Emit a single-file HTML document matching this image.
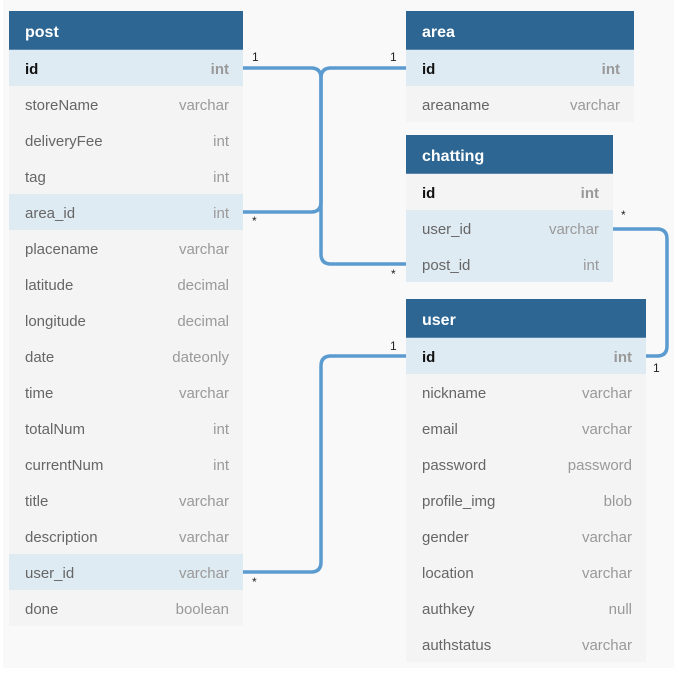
<!DOCTYPE html>
<html><head><meta charset="utf-8"><style>
*{margin:0;padding:0;box-sizing:border-box}
body{width:674px;height:675px;background:#fff;position:relative;overflow:hidden;font-family:"Liberation Sans","DejaVu Sans",sans-serif}
#bg{position:absolute;left:3px;top:0;width:671px;height:668px;background:#f9f9f9}
.t{position:absolute;background:#f4f4f4}
.h{height:39px;background:#2d6693;color:#fff;font-weight:bold;font-size:16px;line-height:39px;padding:2px 0 0 16px;border-bottom:1px solid #5a87ab}
.r{height:36px;line-height:36px;font-size:15px;color:#666;padding:2px 14px 0 16px;display:flex;justify-content:space-between}
.r span:last-child{color:#999}
.r.hl{background:#dfebf3}
.r.pk{font-weight:bold;color:#111}
.r.pk span:last-child{color:#999}
.l{position:absolute;font-size:12px;color:#222}
svg{position:absolute;left:0;top:0}
</style></head><body>
<div id="bg"></div>
<svg width="674" height="675"><g fill="none" stroke="#5b9bd0" stroke-width="3.5">
<path d="M243 68 H311 Q321 68 321 78 V254 Q321 264 331 264 H406"/>
<path d="M406 68 H331 Q321 68 321 78 V202 Q321 212 311 212 H243"/>
<path d="M613 229 H657 Q667 229 667 239 V346 Q667 356 657 356 H646"/>
<path d="M243 572 H311 Q321 572 321 562 V366 Q321 356 331 356 H406"/>
</g></svg>
<div class="t" style="left:9px;top:11px;width:234px">
<div class="h">post</div>
<div class="r hl pk"><span>id</span><span>int</span></div>
<div class="r"><span>storeName</span><span>varchar</span></div>
<div class="r"><span>deliveryFee</span><span>int</span></div>
<div class="r"><span>tag</span><span>int</span></div>
<div class="r hl"><span>area_id</span><span>int</span></div>
<div class="r"><span>placename</span><span>varchar</span></div>
<div class="r"><span>latitude</span><span>decimal</span></div>
<div class="r"><span>longitude</span><span>decimal</span></div>
<div class="r"><span>date</span><span>dateonly</span></div>
<div class="r"><span>time</span><span>varchar</span></div>
<div class="r"><span>totalNum</span><span>int</span></div>
<div class="r"><span>currentNum</span><span>int</span></div>
<div class="r"><span>title</span><span>varchar</span></div>
<div class="r"><span>description</span><span>varchar</span></div>
<div class="r hl"><span>user_id</span><span>varchar</span></div>
<div class="r"><span>done</span><span>boolean</span></div>
</div>
<div class="t" style="left:406px;top:11px;width:228px">
<div class="h">area</div>
<div class="r hl pk"><span>id</span><span>int</span></div>
<div class="r"><span>areaname</span><span>varchar</span></div>
</div>
<div class="t" style="left:406px;top:135px;width:207px">
<div class="h">chatting</div>
<div class="r pk"><span>id</span><span>int</span></div>
<div class="r hl"><span>user_id</span><span>varchar</span></div>
<div class="r hl"><span>post_id</span><span>int</span></div>
</div>
<div class="t" style="left:406px;top:299px;width:240px">
<div class="h">user</div>
<div class="r hl pk"><span>id</span><span>int</span></div>
<div class="r"><span>nickname</span><span>varchar</span></div>
<div class="r"><span>email</span><span>varchar</span></div>
<div class="r"><span>password</span><span>password</span></div>
<div class="r"><span>profile_img</span><span>blob</span></div>
<div class="r"><span>gender</span><span>varchar</span></div>
<div class="r"><span>location</span><span>varchar</span></div>
<div class="r"><span>authkey</span><span>null</span></div>
<div class="r"><span>authstatus</span><span>varchar</span></div>
</div>
<div class="l" style="left:252px;top:50px">1</div>
<div class="l" style="left:390px;top:50px">1</div>
<div class="l" style="left:252px;top:214px">*</div>
<div class="l" style="left:391px;top:267px">*</div>
<div class="l" style="left:621px;top:208px">*</div>
<div class="l" style="left:390px;top:339px">1</div>
<div class="l" style="left:653px;top:361px">1</div>
<div class="l" style="left:252px;top:575px">*</div>
</body></html>
